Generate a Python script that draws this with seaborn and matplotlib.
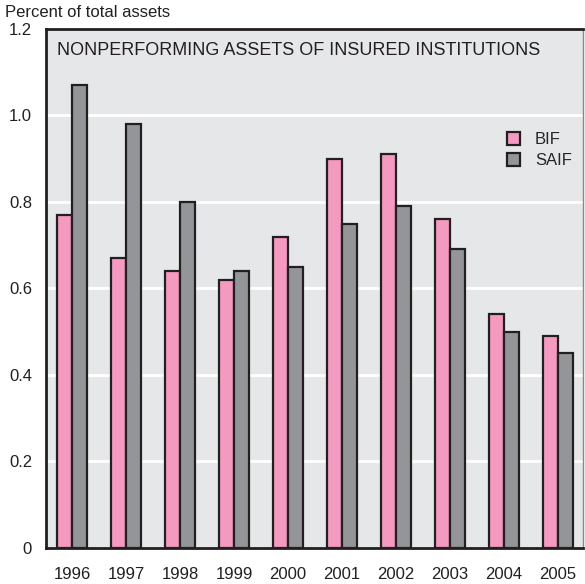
import pandas as pd
import matplotlib
matplotlib.use('Agg')
import matplotlib.pyplot as plt
import seaborn as sns

# values
years = ['1996', '1997', '1998', '1999', '2000', '2001', '2002', '2003', '2004', '2005']
bif = [0.77, 0.67, 0.64, 0.62, 0.72, 0.90, 0.91, 0.76, 0.54, 0.49]
saif = [1.07, 0.98, 0.80, 0.64, 0.65, 0.75, 0.79, 0.69, 0.50, 0.45]
yticks = [0, 0.2, 0.4, 0.6, 0.8, 1.0, 1.2]
ytick_labels = ['0', '0.2', '0.4', '0.6', '0.8', '1.0', '1.2']

df = pd.DataFrame({
    'year': years * 2,
    'value': bif + saif,
    'fund': ['BIF'] * len(years) + ['SAIF'] * len(years),
})

sns.set_style('white')
plt.rcParams['font.family'] = ['Liberation Sans', 'DejaVu Sans']

fig = plt.figure(figsize=(5.85, 5.84), dpi=100)
ax = fig.add_axes([0.0786, 0.0616, 0.918, 0.889])
ax.set_facecolor('#e6e7e8')

sns.barplot(data=df, x='year', y='value', hue='fund',
            palette={'BIF': '#f49ac1', 'SAIF': '#939598'},
            width=0.56, gap=0, edgecolor='#231f20', linewidth=1.6,
            saturation=1, ax=ax, zorder=3)

ax.set_ylim(0, 1.2)
ax.set_xlim(-0.48, 9.46)
ax.set_yticks(yticks)
ax.set_yticklabels(ytick_labels)
for y in yticks[1:-1]:
    ax.axhline(y, color='white', lw=2, zorder=1)

ax.tick_params(axis='y', direction='in', length=12, width=2, color='#231f20',
               labelsize=12, pad=10, labelcolor='#231f20')
ax.tick_params(axis='x', length=0, labelsize=12, pad=14, labelcolor='#231f20')
for t in ax.yaxis.get_major_ticks():
    t.tick1line.set_zorder(5)
ax.set_xlabel('')
ax.set_ylabel('')

for s in ['left', 'bottom', 'top']:
    ax.spines[s].set_color('#231f20')
    ax.spines[s].set_linewidth(2)
ax.spines['right'].set_color('#888888')
ax.spines['right'].set_linewidth(1)

ax.text(0.02, 0.975, 'NONPERFORMING ASSETS OF INSURED INSTITUTIONS',
        transform=ax.transAxes, ha='left', va='top', fontsize=13,
        color='#231f20')
fig.text(0.009, 0.978, 'Percent of total assets', ha='left', va='center',
         fontsize=12, color='#231f20')

ax.legend(loc='upper left', bbox_to_anchor=(0.83, 0.83), frameon=False,
          handlelength=0.8, handleheight=0.8, handletextpad=0.9,
          labelspacing=0.35, fontsize=12)

fig.savefig('out.png', dpi=100)
